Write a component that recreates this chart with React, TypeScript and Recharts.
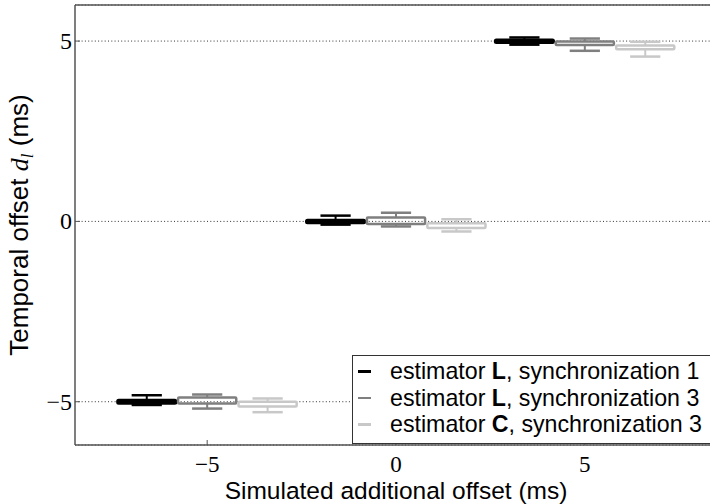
import {
  ComposedChart,
  XAxis,
  YAxis,
  CartesianGrid,
  ReferenceArea,
  ReferenceLine,
  Legend,
} from 'recharts';

// simulated offsets (group centres on the x axis)
const GROUPS = [-5, 0, 5];
const X_TICKS = [-5, 0, 5];
const Y_TICKS = [-5, 0, 5];

const SERIES_ESTIMATOR = ['L', 'L', 'C'];
const SERIES_SYNC = ['1', '3', '3'];
const SERIES_COLORS = ['#000000', '#7f7f7f', '#c8c8c8'];
const SERIES_SHIFT = [-1.6, 0, 1.6];

// [lower whisker, q1, q3, upper whisker] per group (-5, 0, 5)
const EST_L_SYNC1 = [
  [-5.09, -5.04, -4.96, -4.82],
  [-0.09, -0.04, 0.03, 0.16],
  [4.9, 4.96, 5.03, 5.1],
];
const EST_L_SYNC3 = [
  [-5.19, -5.05, -4.88, -4.8],
  [-0.14, -0.07, 0.11, 0.24],
  [4.73, 4.89, 4.99, 5.07],
];
const EST_C_SYNC3 = [
  [-5.29, -5.13, -5.0, -4.91],
  [-0.28, -0.18, -0.05, 0.06],
  [4.57, 4.77, 4.88, 4.98],
];
const SERIES_VALUES = [EST_L_SYNC1, EST_L_SYNC3, EST_C_SYNC3];

const BOX_HALF = 0.77;
const CAP_HALF = 0.4;
const AXIS_COLOR = '#555555';
const SERIF = '"Liberation Serif", "Times New Roman", serif';
const SANS = '"Liberation Sans", Arial, sans-serif';

const fmtTick = (v: number) => (v < 0 ? `\u2212${-v}` : `${v}`);

function XTick({ x, y, payload }: any) {
  return (
    <text x={x} y={y} dy={15} textAnchor="middle" fontSize={23} fontFamily={SERIF} fill="#000">
      {fmtTick(payload.value)}
    </text>
  );
}

function YTick({ x, y, payload }: any) {
  return (
    <text x={x} y={y} dy={8} textAnchor="end" fontSize={24} fontFamily={SERIF} fill="#000">
      {fmtTick(payload.value)}
    </text>
  );
}

function renderLegend() {
  return (
    <div
      style={{
        border: '1px solid #333',
        background: '#fff',
        padding: '2px 0 5px 0',
        fontFamily: SANS,
        fontSize: 23.2,
        lineHeight: '26.5px',
        color: '#000',
      }}
    >
      {SERIES_ESTIMATOR.map((est, i) => (
        <div key={i} style={{ display: 'flex', alignItems: 'center', whiteSpace: 'nowrap' }}>
          <span
            style={{
              display: 'inline-block',
              width: 13,
              height: 2.5,
              marginLeft: 5,
              marginRight: 19,
              background: SERIES_COLORS[i],
            }}
          />
          <span>
            estimator <b>{est}</b>, synchronization {SERIES_SYNC[i]}
          </span>
        </div>
      ))}
    </div>
  );
}

function YLabel() {
  return (
    <text
      transform="translate(28,225) rotate(-90)"
      textAnchor="middle"
      fontFamily={SANS}
      fontSize={26}
      fill="#000"
    >
      Temporal offset{' '}
      <tspan fontFamily={SERIF} fontStyle="italic">d</tspan>
      <tspan fontFamily={SERIF} fontStyle="italic" fontSize={17} dy={5}>
        l
      </tspan>
      <tspan dy={-5}> (ms)</tspan>
    </text>
  );
}

export default function App() {
  const boxes: JSX.Element[] = [];
  SERIES_VALUES.forEach((vals, s) => {
    const color = SERIES_COLORS[s];
    vals.forEach(([lo, q1, q3, hi], g) => {
      const cx = GROUPS[g] + SERIES_SHIFT[s];
      const k = `${s}-${g}`;
      boxes.push(
        <ReferenceLine
          key={`wl${k}`}
          segment={[{ x: cx, y: lo }, { x: cx, y: q1 }]}
          stroke={color}
          strokeWidth={2}
        />,
        <ReferenceLine
          key={`wh${k}`}
          segment={[{ x: cx, y: q3 }, { x: cx, y: hi }]}
          stroke={color}
          strokeWidth={2}
        />,
        <ReferenceLine
          key={`cl${k}`}
          segment={[{ x: cx - CAP_HALF, y: lo }, { x: cx + CAP_HALF, y: lo }]}
          stroke={color}
          strokeWidth={2.5}
        />,
        <ReferenceLine
          key={`ch${k}`}
          segment={[{ x: cx - CAP_HALF, y: hi }, { x: cx + CAP_HALF, y: hi }]}
          stroke={color}
          strokeWidth={2.5}
        />,
        <ReferenceArea
          key={`b${k}`}
          x1={cx - BOX_HALF}
          x2={cx + BOX_HALF}
          y1={q1}
          y2={q3}
          fill="none"
          fillOpacity={0}
          stroke={color}
          strokeWidth={s === 0 ? 3 : 2.5}
          strokeOpacity={1}
          radius={1}
        />
      );
    });
  });

  return (
    <div style={{ position: 'absolute', left: 0, top: 0, width: 710, height: 504, overflow: 'hidden', background: '#fff' }}>
      <ComposedChart width={718} height={504} data={[]} margin={{ top: 5, right: 1, bottom: 0, left: 0 }}>
        <CartesianGrid vertical={false} stroke="#333" strokeDasharray="1 2.3" />
        <XAxis
          type="number"
          dataKey="x"
          domain={[-8.5, 8.5]}
          ticks={X_TICKS}
          allowDataOverflow
          height={59}
          tickSize={-5}
          tickMargin={17}
          tick={<XTick />}
          axisLine={{ stroke: AXIS_COLOR, strokeWidth: 1.5 }}
          tickLine={{ stroke: AXIS_COLOR }}
          label={{
            value: 'Simulated additional offset (ms)',
            position: 'insideBottom',
            offset: 5,
            fontSize: 24.5,
            fill: '#000',
            fontFamily: SANS,
          }}
        />
        <YAxis
          type="number"
          domain={[-6.2, 6]}
          ticks={Y_TICKS}
          allowDataOverflow
          width={75}
          tickSize={-5}
          tickMargin={8}
          tick={<YTick />}
          axisLine={{ stroke: AXIS_COLOR, strokeWidth: 1.5 }}
          tickLine={{ stroke: AXIS_COLOR }}
          label={{ content: () => <YLabel /> }}
        />
        <ReferenceLine y={6} stroke={AXIS_COLOR} strokeWidth={1.5} />
        {boxes}
        <Legend
          layout="horizontal"
          verticalAlign="middle"
          align="center"
          content={renderLegend}
          wrapperStyle={{ left: 352, top: 355, width: 370, height: 'auto' }}
        />
      </ComposedChart>
    </div>
  );
}
